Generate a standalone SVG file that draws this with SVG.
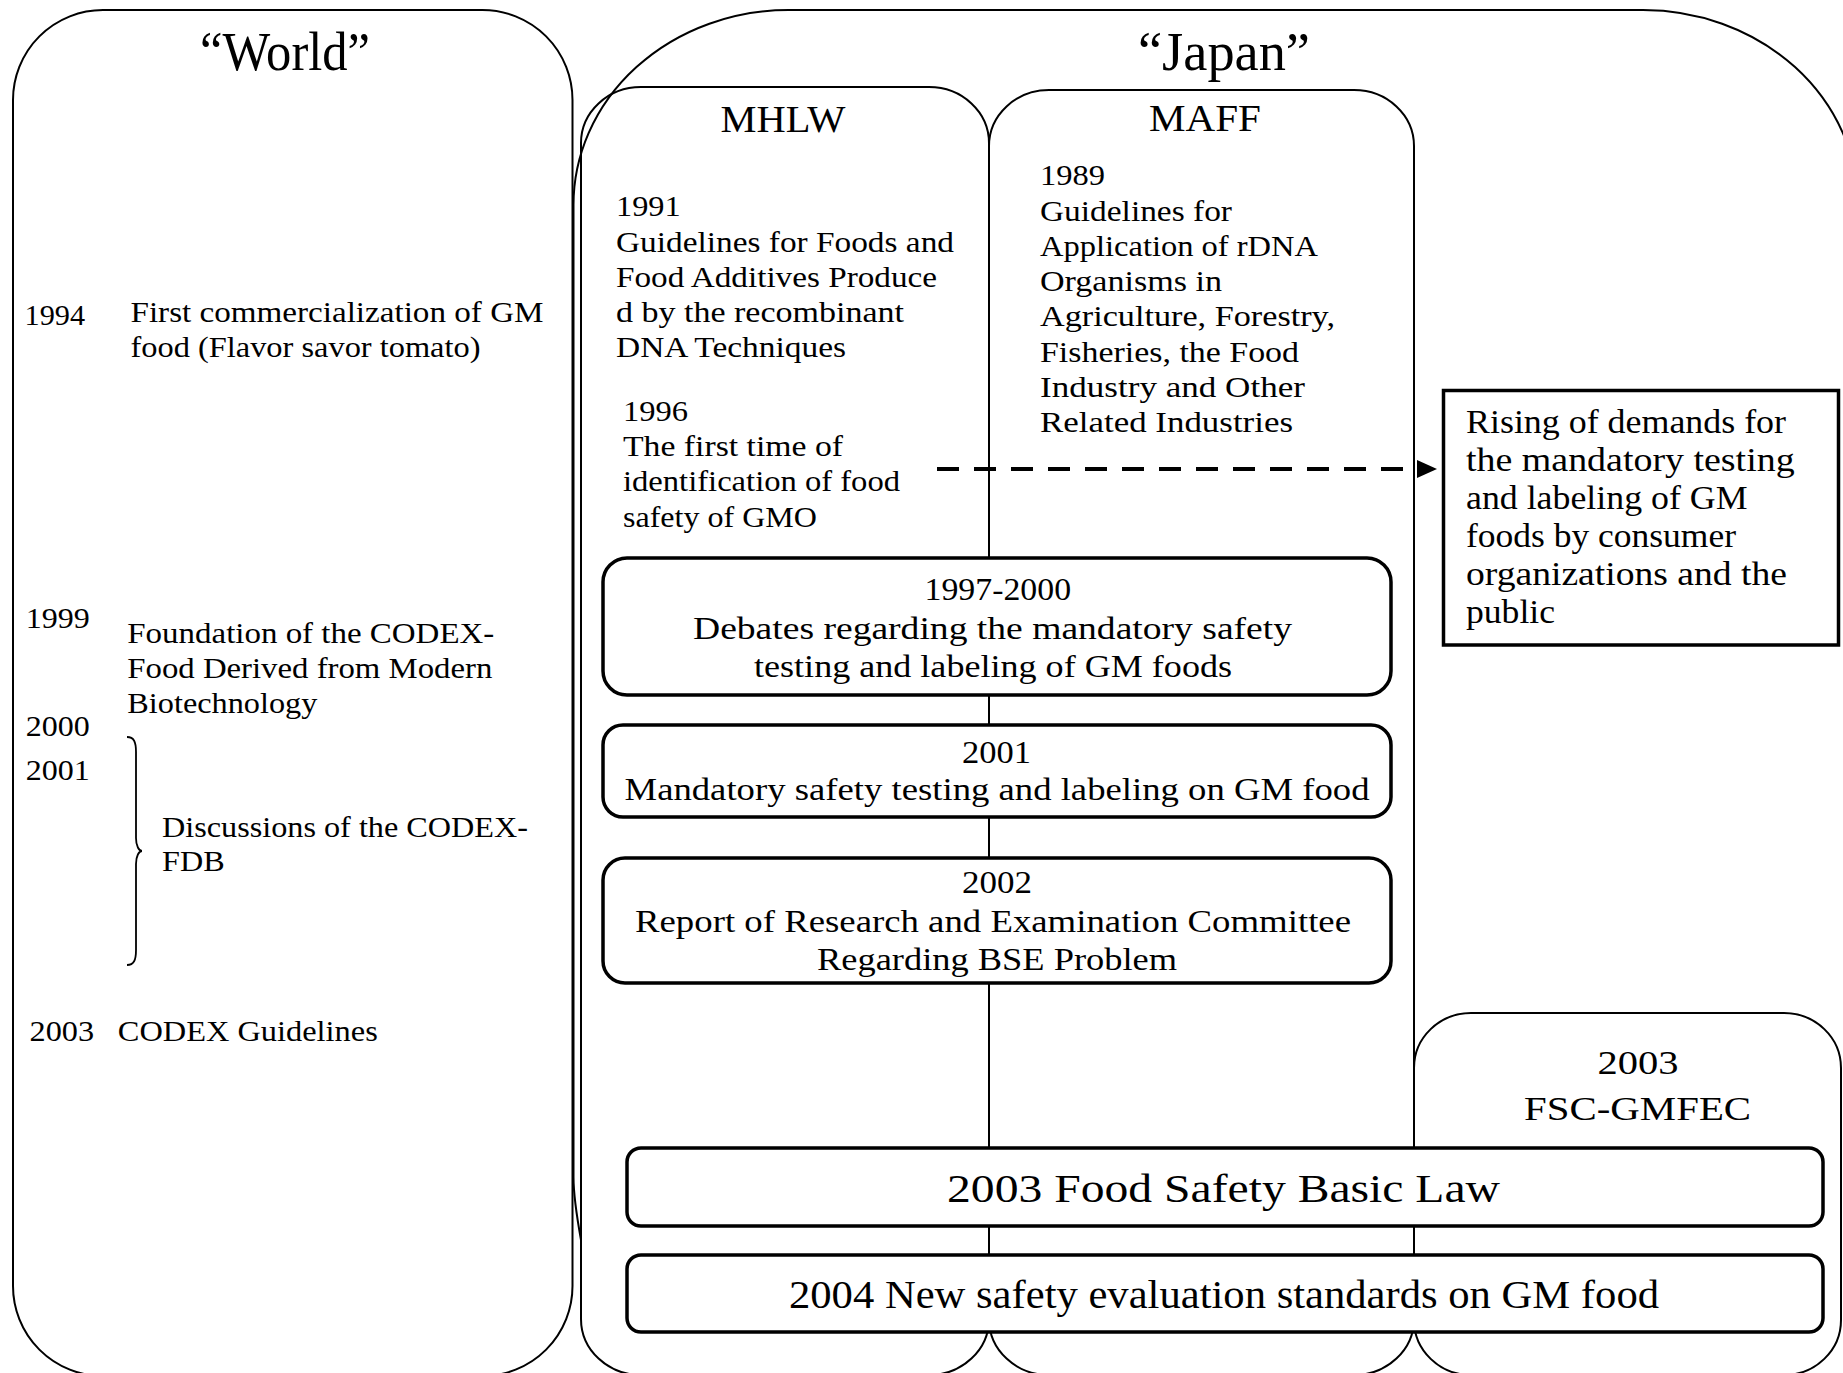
<svg xmlns="http://www.w3.org/2000/svg" width="1843" height="1373" viewBox="0 0 1843 1373">
<style>
  .frame { fill: none; stroke: #000; stroke-width: 2; }
  .box { fill: #fff; stroke: #000; stroke-width: 3.5; }
  .t { font-family: "Liberation Serif", "Times New Roman", serif; font-size: 30px; fill: #000; }
  .bt { font-family: "Liberation Serif", "Times New Roman", serif; font-size: 32px; fill: #000; text-anchor: middle; }
  .big { font-family: "Liberation Serif", "Times New Roman", serif; font-size: 40px; fill: #000; text-anchor: middle; }
  .title { font-family: "Liberation Serif", "Times New Roman", serif; font-size: 54px; fill: #000; text-anchor: middle; }
  .sub { font-family: "Liberation Serif", "Times New Roman", serif; font-size: 37px; fill: #000; text-anchor: middle; }
  .rt { font-family: "Liberation Serif", "Times New Roman", serif; font-size: 33px; fill: #000; }
  .fsc { font-family: "Liberation Serif", "Times New Roman", serif; font-size: 33px; fill: #000; text-anchor: middle; }
  .dash { fill: none; stroke: #000; stroke-width: 4; stroke-dasharray: 22 15; }
</style>
<defs>
  <marker id="arrow" markerUnits="userSpaceOnUse" viewBox="0 0 20 18" markerWidth="20" markerHeight="18" refX="2" refY="9" orient="auto">
    <path d="M0,0 L20,9 L0,18 Z" fill="#000"/>
  </marker>
</defs>
<rect width="1843" height="1373" fill="#fff"/>

<g id="world">
  <rect class="frame" x="13" y="10" width="559.5" height="1366" rx="90" ry="90"/>
  <text class="title" x="285" y="70" textLength="170" lengthAdjust="spacingAndGlyphs">“World”</text>
  <text class="t" x="24.5" y="325" textLength="60.5" lengthAdjust="spacingAndGlyphs">1994</text>
  <text class="t" x="130.5" y="322" textLength="413" lengthAdjust="spacingAndGlyphs">First commercialization of GM</text>
  <text class="t" x="130.5" y="357" textLength="350" lengthAdjust="spacingAndGlyphs">food (Flavor savor tomato)</text>
  <text class="t" x="25.7" y="628" textLength="64" lengthAdjust="spacingAndGlyphs">1999</text>
  <text class="t" x="127.3" y="643" textLength="367" lengthAdjust="spacingAndGlyphs">Foundation of the CODEX-</text>
  <text class="t" x="127.3" y="678" textLength="365" lengthAdjust="spacingAndGlyphs">Food Derived from Modern</text>
  <text class="t" x="127.3" y="712.5" textLength="190" lengthAdjust="spacingAndGlyphs">Biotechnology</text>
  <text class="t" x="25.7" y="736" textLength="64" lengthAdjust="spacingAndGlyphs">2000</text>
  <text class="t" x="25.7" y="780" textLength="64" lengthAdjust="spacingAndGlyphs">2001</text>
  <path d="M127,737 C134,737 136,742 136,752 L136,838 C136,846 139,851 142,851 C139,851 136,856 136,864 L136,950 C136,960 134,965 127,965" fill="none" stroke="#000" stroke-width="1.8"/>
  <text class="t" x="162" y="837" textLength="366" lengthAdjust="spacingAndGlyphs">Discussions of the CODEX-</text>
  <text class="t" x="162" y="871" textLength="62.6" lengthAdjust="spacingAndGlyphs">FDB</text>
  <text class="t" x="29.6" y="1041" textLength="64.5" lengthAdjust="spacingAndGlyphs">2003</text>
  <text class="t" x="117.8" y="1041" textLength="260" lengthAdjust="spacingAndGlyphs">CODEX Guidelines</text>
</g>

<g id="japan">
  <path class="frame" d="M581,1240 C576.5,1215 573.5,1195 573.5,1177 V205 A215,195 0 0 1 788.5,10 H1643 A215,195 0 0 1 1858,205 V1390"/>
  <text class="title" x="1224" y="70" textLength="172" lengthAdjust="spacingAndGlyphs">“Japan”</text>
</g>

<g id="mhlw">
  <rect class="frame" x="581" y="87" width="408" height="1288" rx="60" ry="56"/>
  <text class="sub" x="783" y="131.5" textLength="125" lengthAdjust="spacingAndGlyphs">MHLW</text>
  <text class="t" x="616" y="216" textLength="64.7" lengthAdjust="spacingAndGlyphs">1991</text>
  <text class="t" x="616" y="252" textLength="338" lengthAdjust="spacingAndGlyphs">Guidelines for Foods and</text>
  <text class="t" x="616" y="287" textLength="321" lengthAdjust="spacingAndGlyphs">Food Additives Produce</text>
  <text class="t" x="616" y="322" textLength="288" lengthAdjust="spacingAndGlyphs">d by the recombinant</text>
  <text class="t" x="616" y="357" textLength="230" lengthAdjust="spacingAndGlyphs">DNA Techniques</text>
  <text class="t" x="623" y="421" textLength="65" lengthAdjust="spacingAndGlyphs">1996</text>
  <text class="t" x="623" y="456" textLength="220" lengthAdjust="spacingAndGlyphs">The first time of</text>
  <text class="t" x="623" y="491" textLength="277" lengthAdjust="spacingAndGlyphs">identification of food</text>
  <text class="t" x="623" y="527" textLength="194" lengthAdjust="spacingAndGlyphs">safety of GMO</text>
</g>

<g id="maff">
  <rect class="frame" x="989" y="90" width="425" height="1285" rx="60" ry="56"/>
  <text class="sub" x="1205" y="131" textLength="112" lengthAdjust="spacingAndGlyphs">MAFF</text>
  <text class="t" x="1040" y="185" textLength="65" lengthAdjust="spacingAndGlyphs">1989</text>
  <text class="t" x="1040" y="221" textLength="192" lengthAdjust="spacingAndGlyphs">Guidelines for</text>
  <text class="t" x="1040" y="256" textLength="278" lengthAdjust="spacingAndGlyphs">Application of rDNA</text>
  <text class="t" x="1040" y="291" textLength="182" lengthAdjust="spacingAndGlyphs">Organisms in</text>
  <text class="t" x="1040" y="326" textLength="295" lengthAdjust="spacingAndGlyphs">Agriculture, Forestry,</text>
  <text class="t" x="1040" y="362" textLength="259" lengthAdjust="spacingAndGlyphs">Fisheries, the Food</text>
  <text class="t" x="1040" y="397" textLength="265" lengthAdjust="spacingAndGlyphs">Industry and Other</text>
  <text class="t" x="1040" y="432" textLength="253" lengthAdjust="spacingAndGlyphs">Related Industries</text>
</g>

<g id="fsc">
  <rect class="frame" x="1414" y="1013" width="427" height="362" rx="57" ry="55"/>
  <text class="fsc" x="1638" y="1074" textLength="81" lengthAdjust="spacingAndGlyphs">2003</text>
  <text class="fsc" x="1637.6" y="1120" textLength="227" lengthAdjust="spacingAndGlyphs">FSC-GMFEC</text>
</g>

<g id="debates">
  <rect class="box" x="603" y="558" width="788" height="137" rx="24" ry="24"/>
  <text class="bt" x="997.8" y="600" textLength="146.5" lengthAdjust="spacingAndGlyphs">1997-2000</text>
  <text class="bt" x="992.5" y="639" textLength="599" lengthAdjust="spacingAndGlyphs">Debates regarding the mandatory safety</text>
  <text class="bt" x="993" y="677" textLength="478" lengthAdjust="spacingAndGlyphs">testing and labeling of GM foods</text>
</g>

<g id="mandatory">
  <rect class="box" x="603" y="725" width="788" height="92" rx="20" ry="20"/>
  <text class="bt" x="996.5" y="763" textLength="69" lengthAdjust="spacingAndGlyphs">2001</text>
  <text class="bt" x="997" y="800" textLength="745" lengthAdjust="spacingAndGlyphs">Mandatory safety testing and labeling on GM food</text>
</g>

<g id="report">
  <rect class="box" x="603" y="858" width="788" height="125" rx="22" ry="22"/>
  <text class="bt" x="997" y="893" textLength="70" lengthAdjust="spacingAndGlyphs">2002</text>
  <text class="bt" x="993" y="932" textLength="716" lengthAdjust="spacingAndGlyphs">Report of Research and Examination Committee</text>
  <text class="bt" x="997" y="970" textLength="360" lengthAdjust="spacingAndGlyphs">Regarding BSE Problem</text>
</g>

<g id="basiclaw">
  <rect class="box" x="627" y="1148" width="1196" height="78" rx="14" ry="14"/>
  <text class="big" x="1223.5" y="1202" textLength="553" lengthAdjust="spacingAndGlyphs">2003 Food Safety Basic Law</text>
</g>

<g id="standards">
  <rect class="box" x="627" y="1255" width="1196" height="77" rx="14" ry="14"/>
  <text class="big" x="1224" y="1308" textLength="870" lengthAdjust="spacingAndGlyphs">2004 New safety evaluation standards on GM food</text>
</g>

<g id="rising">
  <rect x="1443.5" y="390.5" width="395" height="254.5" fill="#fff" stroke="#000" stroke-width="3.5"/>
  <text class="rt" x="1466" y="433" textLength="320" lengthAdjust="spacingAndGlyphs">Rising of demands for</text>
  <text class="rt" x="1466" y="471" textLength="328.6" lengthAdjust="spacingAndGlyphs">the mandatory testing</text>
  <text class="rt" x="1466" y="509" textLength="281.5" lengthAdjust="spacingAndGlyphs">and labeling of GM</text>
  <text class="rt" x="1466" y="547" textLength="270" lengthAdjust="spacingAndGlyphs">foods by consumer</text>
  <text class="rt" x="1466" y="585" textLength="321" lengthAdjust="spacingAndGlyphs">organizations and the</text>
  <text class="rt" x="1466" y="623" textLength="89" lengthAdjust="spacingAndGlyphs">public</text>
</g>

<g id="connectors">
  <line class="dash" x1="937" y1="469" x2="1419" y2="469" marker-end="url(#arrow)"/>
</g>
</svg>
